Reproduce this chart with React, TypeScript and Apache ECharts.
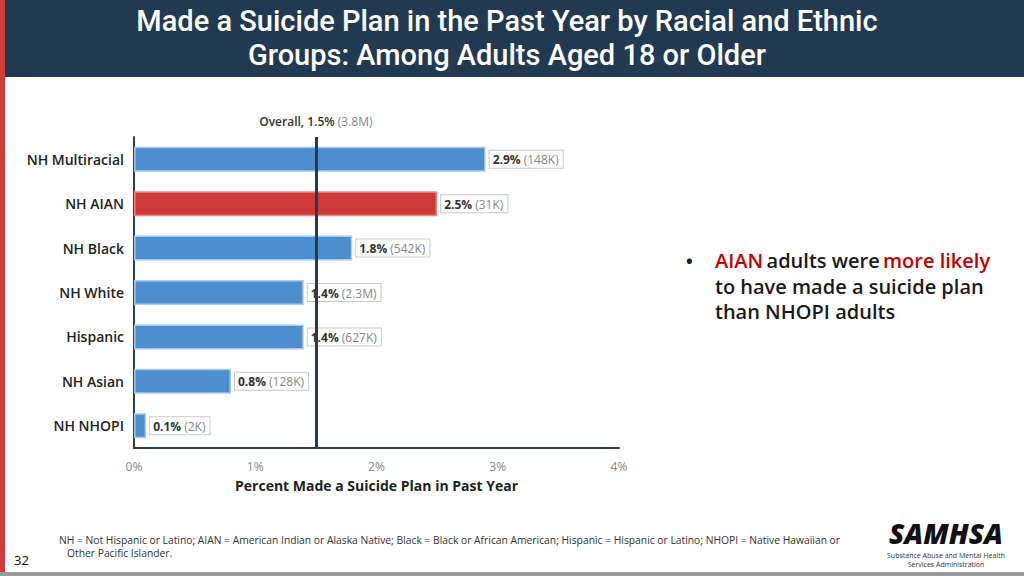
import React, { useEffect, useRef } from "react";
import * as echarts from "echarts";

const categories = ["NH Multiracial", "NH AIAN", "NH Black", "NH White", "Hispanic", "NH Asian", "NH NHOPI"];
const percents = [2.9, 2.5, 1.8, 1.4, 1.4, 0.8, 0.1];
const counts = ["148K", "31K", "542K", "2.3M", "627K", "128K", "2K"];
const highlighted = ["NH AIAN"];
const overallValue = 1.5;
const overallCount = "3.8M";
const xTicks = [0, 1, 2, 3, 4];

const FONT = "'Open Sans', 'Noto Sans', sans-serif";
const TITLE_FONT = "Roboto, 'Open Sans', sans-serif";

export default function App() {
  const ref = useRef<HTMLDivElement>(null);
  useEffect(() => {
    if (!ref.current) return;
    const chart = echarts.init(ref.current, null, { renderer: "svg" });
    const data = categories.map((c, i) => ({
      value: percents[i],
      itemStyle: highlighted.includes(c)
        ? { color: "#d0393a", borderColor: "#e88a86", borderWidth: 1.5 }
        : { color: "#4d8ecf", borderColor: "#a9c9ea", borderWidth: 1.5 },
    }));
    chart.setOption({
      animation: false,
      backgroundColor: "#ffffff",
      textStyle: { fontFamily: FONT },
      grid: { left: 134, right: 405, top: 137, height: 311 },
      xAxis: {
        type: "value",
        min: xTicks[0],
        max: xTicks[xTicks.length - 1],
        interval: 1,
        axisLine: { show: true, lineStyle: { color: "#2c3d4f", width: 2 } },
        axisTick: { show: false },
        splitLine: { show: false },
        axisLabel: {
          formatter: (v: number) => `${v}%`,
          color: "#8a8a8a",
          fontSize: 12,
          margin: 12,
          fontFamily: FONT,
        },
        name: "Percent Made a Suicide Plan in Past Year",
        nameLocation: "middle",
        nameGap: 30,
        nameTextStyle: { color: "#222", fontSize: 14, fontWeight: 700, fontFamily: FONT },
      },
      yAxis: {
        type: "category",
        data: categories,
        inverse: true,
        axisLine: { show: true, lineStyle: { color: "#2c3d4f", width: 2 } },
        axisTick: { show: false },
        axisLabel: {
          color: "#222",
          fontSize: 14,
          fontWeight: 600,
          margin: 10,
          fontFamily: FONT,
        },
      },
      series: [
        {
          type: "bar",
          data,
          barWidth: 25,
          label: {
            show: true,
            position: "right",
            distance: 4,
            backgroundColor: "#ffffff",
            borderColor: "#c9c9c9",
            borderWidth: 1,
            padding: [3, 4, 2, 3],
            formatter: (p: any) => `{b|${percents[p.dataIndex]}%} {g|(${counts[p.dataIndex]})}`,
            rich: {
              b: { color: "#333", fontSize: 12, fontWeight: 700, fontFamily: FONT },
              g: { color: "#888", fontSize: 12, fontFamily: FONT },
            },
          },
          markLine: {
            silent: true,
            symbol: "none",
            lineStyle: { color: "#2b3a4a", width: 3, type: "solid" },
            label: {
              show: true,
              position: "start",
              distance: 10,
              formatter: `{b|Overall, ${overallValue}%} {g|(${overallCount})}`,
              rich: {
                b: { color: "#333", fontSize: 12, fontWeight: 600, fontFamily: FONT },
                g: { color: "#888", fontSize: 12, fontFamily: FONT },
              },
            },
            data: [{ xAxis: overallValue }],
          },
        },
      ],
      graphic: [
        { type: "rect", left: 0, top: 0, shape: { width: 1024, height: 77 }, style: { fill: "#213a51" } },
        { type: "rect", left: 0, top: 0, shape: { width: 5, height: 576 }, style: { fill: "#d33b3a" } },
        { type: "rect", left: 0, top: 572, shape: { width: 1024, height: 4 }, style: { fill: "#9a9a9a" } },
        {
          type: "text",
          x: 507,
          y: 20.5,
          style: {
            text: "Made a Suicide Plan in the Past Year by Racial and Ethnic",
            fill: "#ffffff",
            font: `500 29px ${TITLE_FONT}`,
            textAlign: "center",
            textVerticalAlign: "middle",
          },
        },
        {
          type: "text",
          x: 507,
          y: 54.5,
          style: {
            text: "Groups: Among Adults Aged 18 or Older",
            fill: "#ffffff",
            font: `500 29px ${TITLE_FONT}`,
            textAlign: "center",
            textVerticalAlign: "middle",
          },
        },
        {
          type: "text",
          x: 686,
          y: 261,
          style: { text: "•", fill: "#222", font: `700 18px ${FONT}`, textVerticalAlign: "middle" },
        },
        {
          type: "text",
          x: 715,
          y: 286,
          style: {
            text: "{r|AIAN} {k|adults were} {r|more likely}\n{k|to have made a suicide plan}\n{k|than NHOPI adults}",
            textVerticalAlign: "middle",
            lineHeight: 25.5,
            rich: {
              r: { fill: "#c00000", font: `600 20px ${FONT}`, lineHeight: 25.5 },
              k: { fill: "#1a1a1a", font: `600 20px ${FONT}`, lineHeight: 25.5 },
            },
          },
        },
        {
          type: "text",
          x: 59,
          y: 546.5,
          style: {
            text: "NH = Not Hispanic or Latino; AIAN = American Indian or Alaska Native; Black = Black or African American; Hispanic = Hispanic or Latino; NHOPI = Native Hawaiian or\n   Other Pacific Islander.",
            fill: "#333",
            font: `10.3px ${FONT}`,
            lineHeight: 13,
            textVerticalAlign: "middle",
          },
        },
        {
          type: "text",
          x: 14,
          y: 560,
          style: { text: "32", fill: "#111", font: `13px ${FONT}`, textVerticalAlign: "middle" },
        },
        {
          type: "text",
          x: 946,
          y: 533,
          style: {
            text: "SAMHSA",
            fill: "#111",
            font: `italic 900 28px ${FONT}`,
            lineHeight: 28,
            textAlign: "center",
            textVerticalAlign: "middle",
          },
        },
        {
          type: "text",
          x: 946,
          y: 560,
          style: {
            text: "Substance Abuse and Mental Health\nServices Administration",
            fill: "#333",
            font: `7px ${FONT}`,
            lineHeight: 8.5,
            textAlign: "center",
            textVerticalAlign: "middle",
          },
        },
      ],
    });
    return () => chart.dispose();
  }, []);
  return (
    <div
      ref={ref}
      style={{ position: "fixed", left: 0, top: 0, width: 1024, height: 576 }}
    />
  );
}
